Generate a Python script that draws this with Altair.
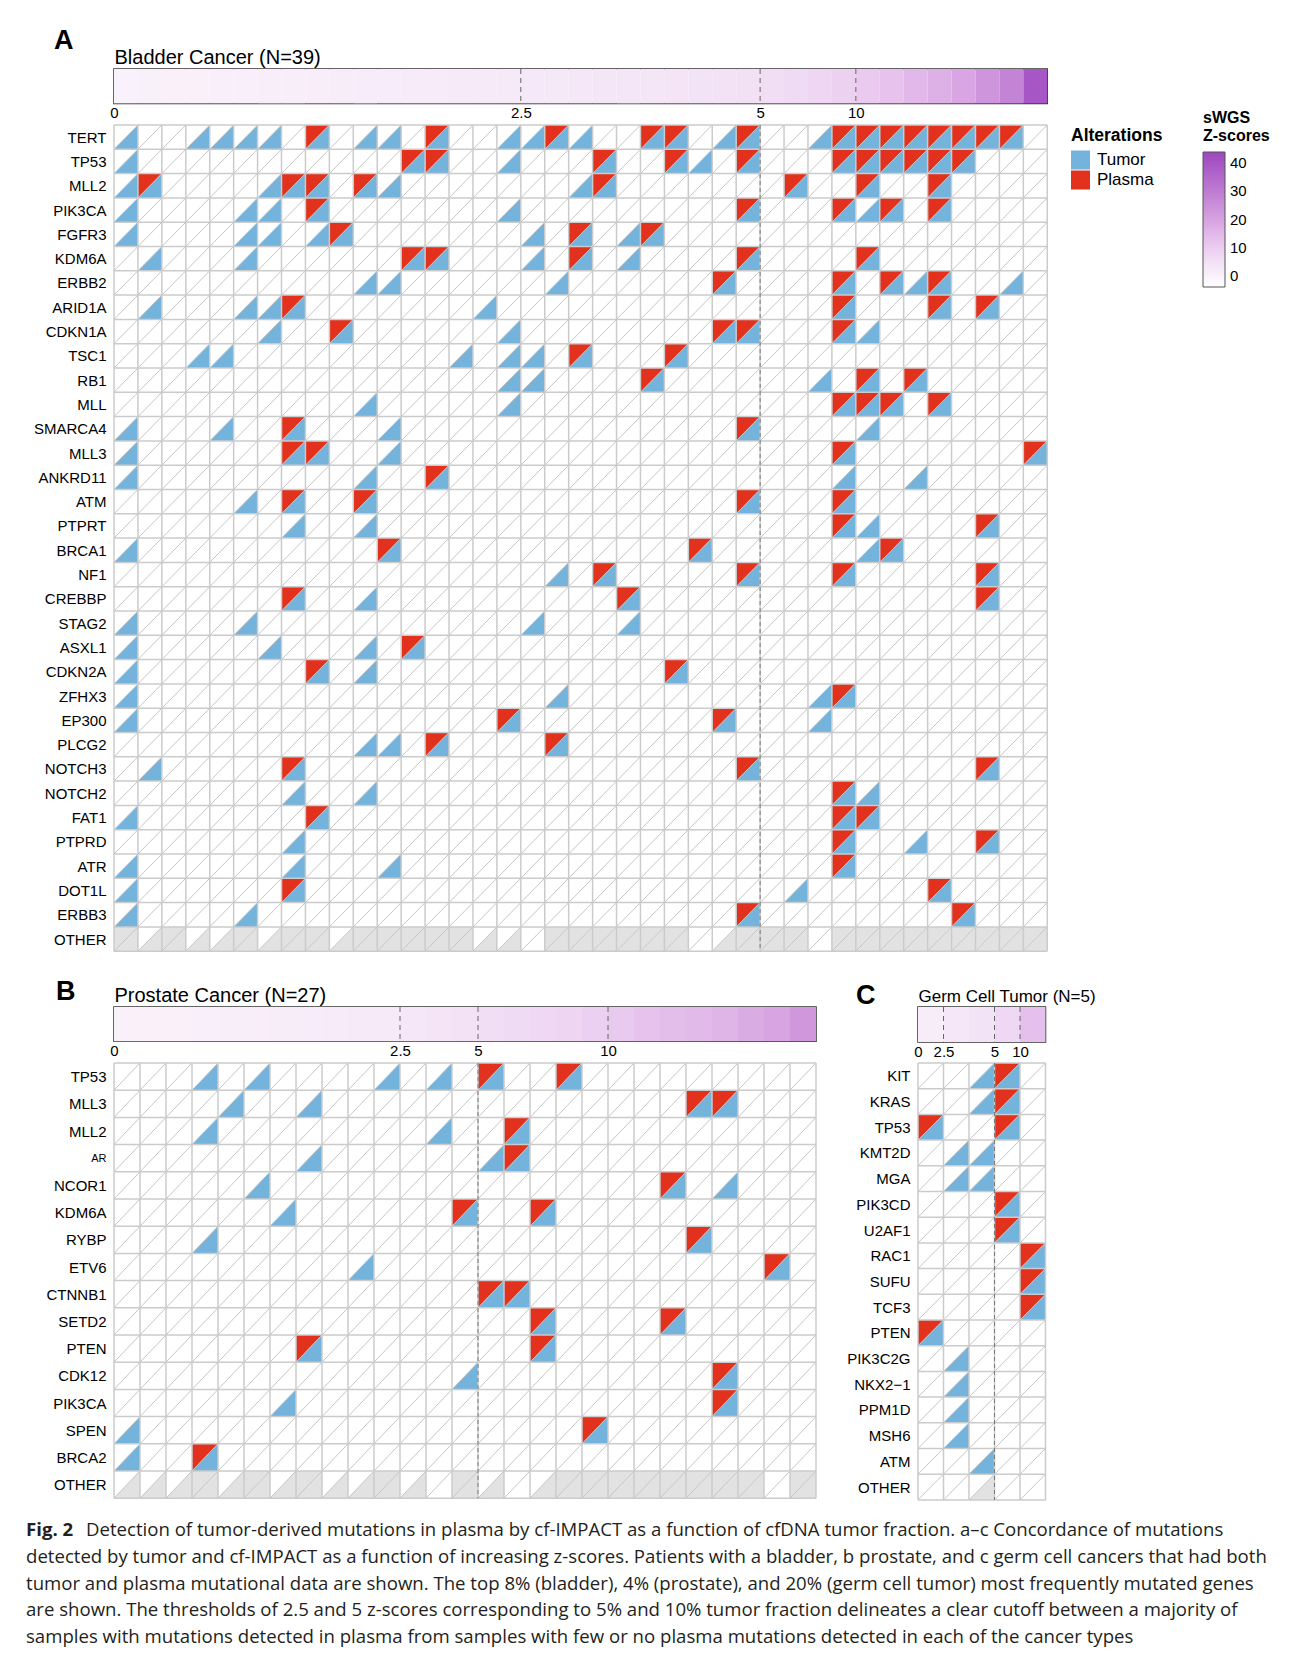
import altair as alt
import pandas as pd

FONT = "Liberation Sans"
BLUE = "#74b3dc"
RED = "#e2311c"
OTHER_GRAY = "#e2e2e2"
GRID = "#cbcbcb"
DIAG = "#c6c6c6"

# ---------------- Panel A: bladder ----------------
GENES_A = ["TERT", "TP53", "MLL2", "PIK3CA", "FGFR3", "KDM6A", "ERBB2", "ARID1A", "CDKN1A", "TSC1",
           "RB1", "MLL", "SMARCA4", "MLL3", "ANKRD11", "ATM", "PTPRT", "BRCA1", "NF1", "CREBBP",
           "STAG2", "ASXL1", "CDKN2A", "ZFHX3", "EP300", "PLCG2", "NOTCH3", "NOTCH2", "FAT1", "PTPRD",
           "ATR", "DOT1L", "ERBB3", "OTHER"]
TUMOR_ONLY_A = {
    "TERT": [0, 3, 4, 5, 6, 10, 11, 16, 17, 19, 25, 29], "TP53": [0, 16, 24],
    "MLL2": [0, 6, 11, 19], "PIK3CA": [0, 5, 6, 16, 31], "FGFR3": [0, 5, 6, 8, 17, 21],
    "KDM6A": [1, 5, 17, 21], "ERBB2": [10, 11, 18, 33, 37], "ARID1A": [1, 5, 6, 15],
    "CDKN1A": [6, 16, 31], "TSC1": [3, 4, 14, 16, 17], "RB1": [16, 17, 29], "MLL": [10, 16],
    "SMARCA4": [0, 4, 11, 31], "MLL3": [0, 11], "ANKRD11": [0, 10, 30, 33], "ATM": [5],
    "PTPRT": [7, 10, 31], "BRCA1": [0, 31], "NF1": [18], "CREBBP": [10], "STAG2": [0, 5, 17, 21],
    "ASXL1": [0, 6, 10], "CDKN2A": [0, 10], "ZFHX3": [0, 18, 29], "EP300": [0, 29],
    "PLCG2": [10, 11], "NOTCH3": [1], "NOTCH2": [7, 10, 31], "FAT1": [0], "PTPRD": [7, 33],
    "ATR": [0, 7, 11], "DOT1L": [0, 28], "ERBB3": [0, 5]}
BOTH_A = {
    "TERT": [8, 13, 18, 22, 23, 26, 30, 31, 32, 33, 34, 35, 36, 37],
    "TP53": [12, 13, 20, 23, 26, 30, 31, 32, 33, 34, 35], "MLL2": [1, 7, 8, 10, 20, 28, 31, 34],
    "PIK3CA": [8, 26, 30, 32, 34], "FGFR3": [9, 19, 22], "KDM6A": [12, 13, 19, 26, 31],
    "ERBB2": [25, 30, 32, 34], "ARID1A": [7, 30, 34, 36], "CDKN1A": [9, 25, 26, 30],
    "TSC1": [19, 23], "RB1": [22, 31, 33], "MLL": [30, 31, 32, 34], "SMARCA4": [7, 26],
    "MLL3": [7, 8, 30, 38], "ANKRD11": [13], "ATM": [7, 10, 26, 30], "PTPRT": [30, 36],
    "BRCA1": [11, 24, 32], "NF1": [20, 26, 30, 36], "CREBBP": [7, 21, 36], "ASXL1": [12],
    "CDKN2A": [8, 23], "ZFHX3": [30], "EP300": [16, 25], "PLCG2": [13, 18],
    "NOTCH3": [7, 26, 36], "NOTCH2": [30], "FAT1": [8, 30, 31], "PTPRD": [30, 36],
    "ATR": [30], "DOT1L": [7, 34], "ERBB3": [26, 35]}
OTHER_A = ["B", "T", "B", "T", "T", "B", "T", "B", "B", "T", "B", "B", "B", "B", "B", "T", "T", "",
           "B", "B", "B", "B", "B", "B", "", "T", "B", "B", "B", "", "B", "B", "B", "B", "B", "B",
           "B", "B", "B"]
Z_A = [0.05, 0.15, 0.3, 0.4, 0.55, 0.7, 0.85, 1.0, 1.1, 1.25, 1.4, 1.55, 1.7, 1.85, 2.0, 2.2,
       2.4, 2.6, 2.8, 3.0, 3.2, 3.4, 3.6, 3.9, 4.2, 4.5, 4.8, 5.4, 6.3, 7.5, 9.0, 10.6, 12.5,
       15.0, 16.5, 19.0, 23.5, 28.0, 40.0]
TICKS_A = [0, 17, 27, 31]
THR_A = 27

# ---------------- Panel B: prostate ----------------
GENES_B = ["TP53", "MLL3", "MLL2", "AR", "NCOR1", "KDM6A", "RYBP", "ETV6", "CTNNB1", "SETD2",
           "PTEN", "CDK12", "PIK3CA", "SPEN", "BRCA2", "OTHER"]
TUMOR_ONLY_B = {"TP53": [3, 5, 10, 12], "MLL3": [4, 7], "MLL2": [3, 12], "AR": [7, 14],
                "NCOR1": [5, 23], "KDM6A": [6], "RYBP": [3], "ETV6": [9], "CDK12": [13],
                "PIK3CA": [6], "SPEN": [0], "BRCA2": [0]}
BOTH_B = {"TP53": [14, 17], "MLL3": [22, 23], "MLL2": [15], "AR": [15], "NCOR1": [21],
          "KDM6A": [13, 16], "RYBP": [22], "ETV6": [25], "CTNNB1": [14, 15], "SETD2": [16, 21],
          "PTEN": [7, 16], "CDK12": [23], "PIK3CA": [23], "SPEN": [18], "BRCA2": [3]}
OTHER_B = ["T", "T", "T", "B", "T", "B", "T", "B", "T", "T", "B", "T", "", "B", "T", "", "T",
           "B", "B", "B", "B", "B", "B", "B", "B", "", "B"]
Z_B = [0.1, 0.3, 0.5, 0.7, 0.9, 1.1, 1.3, 1.6, 1.8, 2.1, 2.3, 3.0, 3.7, 4.5, 5.4, 6.2, 7.0,
       8.0, 9.3, 10.8, 12.6, 13.5, 14.5, 15.8, 18.0, 19.5, 23.0]
TICKS_B = [0, 11, 14, 19]
THR_B = 14

# ---------------- Panel C: germ cell ----------------
GENES_C = ["KIT", "KRAS", "TP53", "KMT2D", "MGA", "PIK3CD", "U2AF1", "RAC1", "SUFU", "TCF3",
           "PTEN", "PIK3C2G", "NKX2\u22121", "PPM1D", "MSH6", "ATM", "OTHER"]
TUMOR_ONLY_C = {"KIT": [2], "KRAS": [2], "KMT2D": [1, 2], "MGA": [1, 2], "PIK3C2G": [1],
                "NKX2\u22121": [1], "PPM1D": [1], "MSH6": [1], "ATM": [2]}
BOTH_C = {"KIT": [3], "KRAS": [3], "TP53": [0, 3], "PIK3CD": [3], "U2AF1": [3], "RAC1": [4],
          "SUFU": [4], "TCF3": [4], "PTEN": [0]}
OTHER_C = ["", "", "T", "", ""]
Z_C = [1.2, 3.1, 4.2, 7.0, 13.0]
TICKS_C = [0, 1, 3, 4]
THR_C = 3

TICK_LABELS = ["0", "2.5", "5", "10"]

CAPTION = [
    "Detection of tumor-derived mutations in plasma by cf-IMPACT as a function of cfDNA tumor fraction. a\u2013c Concordance of mutations",
    "detected by tumor and cf-IMPACT as a function of increasing z-scores. Patients with a bladder, b prostate, and c germ cell cancers that had both",
    "tumor and plasma mutational data are shown. The top 8% (bladder), 4% (prostate), and 20% (germ cell tumor) most frequently mutated genes",
    "are shown. The thresholds of 2.5 and 5 z-scores corresponding to 5% and 10% tumor fraction delineates a clear cutoff between a majority of",
    "samples with mutations detected in plasma from samples with few or no plasma mutations detected in each of the cancer types",
]
FIG_LABEL = "Fig. 2"

# ---------------- shared scales / legends ----------------
FILL_SCALE = alt.Scale(domain=["Tumor", "Plasma"], range=[BLUE, RED])
Z_SCALE = alt.Scale(domain=[-4, 5, 10, 20, 44],
                    range=["#ffffff", "#f2e0f5", "#ebcdf0", "#d7a2e1", "#9d47bf"],
                    interpolate="rgb")
ALT_LEG = alt.Legend(title="Alterations", orient="none", legendX=957, legendY=58,
                     symbolType="square", symbolSize=361, symbolStrokeWidth=0,
                     titleFontSize=17.5, titleFontWeight="bold", titleFont=FONT, titleColor="black",
                     labelFontSize=17, labelFont=FONT, labelColor="black", rowPadding=1,
                     titlePadding=6, labelOffset=7)
Z_LEG = alt.Legend(title=["sWGS", "Z-scores"], orient="none", legendX=1089, legendY=41,
                   direction="vertical", gradientLength=135, gradientThickness=22,
                   values=[0, 10, 20, 30, 40], gradientStrokeColor="#555", gradientStrokeWidth=1,
                   titleFontSize=16, titleFontWeight="bold", titleFont=FONT, titleColor="black",
                   labelFontSize=15, labelFont=FONT, labelColor="black", titlePadding=8,
                   labelOffset=5)


def tick_expr(vals, labels):
    e = "''"
    for v, l in zip(vals, labels):
        e = f"(datum.value == {v} ? '{l}' : {e})"
    return e


def panel(genes, tumor_only, both, other, z, ticks, thr, cw, ch, E, letter, subtitle,
          sub_size, letter_dx, letter_off, cb_h, spacing, small_label=None):
    n_col, n_row = len(z), len(genes)
    W, H = n_col * cw, n_row * ch
    xs = alt.Scale(domain=[0, n_col], nice=False, zero=False)
    ys = alt.Scale(domain=[0, n_row], reverse=True, nice=False, zero=False)
    ky = ch / cw
    LR = f"M1,-{ky:.4f}L1,{ky:.4f}L-1,{ky:.4f}Z"
    UL = f"M-1,-{ky:.4f}L1,-{ky:.4f}L-1,{ky:.4f}Z"
    size = cw * cw

    tri = []
    for g, cols in tumor_only.items():
        for c in cols:
            tri.append(dict(c=c + 0.5, r=genes.index(g) + 0.5, type="Tumor"))
    for g, cols in both.items():
        for c in cols:
            tri.append(dict(c=c + 0.5, r=genes.index(g) + 0.5, type="Tumor"))
            tri.append(dict(c=c + 0.5, r=genes.index(g) + 0.5, type="Plasma"))
    tri = pd.DataFrame(tri)
    ro = n_row - 1 + 0.5
    oth_lr = pd.DataFrame([dict(c=i + 0.5, r=ro) for i, k in enumerate(other) if k in ("T", "B")])
    oth_ul = pd.DataFrame([dict(c=i + 0.5, r=ro) for i, k in enumerate(other) if k == "B"])
    diag = pd.DataFrame([dict(x0=c, x1=c + 1, y0=r + 1, y1=r) for c in range(n_col) for r in range(n_row)])
    hl = pd.DataFrame({"y": list(range(n_row + 1))})
    vl = pd.DataFrame({"x": list(range(n_col + 1))})
    th = pd.DataFrame({"x": [thr]})

    gexpr = "[" + ",".join(f"'{g}'" for g in genes) + "][floor(datum.value)]"
    if small_label:
        fs = {"condition": {"test": f"datum.value == {genes.index(small_label) + 0.5}", "value": 11},
              "value": 15}
    else:
        fs = 15
    gaxis = alt.Axis(values=[r + 0.5 for r in range(n_row)], labelExpr=gexpr, ticks=False,
                     domain=False, grid=False, labelPadding=8, labelFontSize=fs,
                     labelColor="black", labelFont=FONT, labelOverlap=False, labelFlush=False,
                     minExtent=E, maxExtent=E, title=None)

    def X(f):
        return alt.X(f, scale=xs, axis=None)

    def Y(f):
        return alt.Y(f, scale=ys, axis=gaxis)

    layers = []
    if len(oth_lr):
        layers.append(alt.Chart(oth_lr).mark_point(shape=LR, filled=True, size=size, opacity=1,
                                                   strokeWidth=0, color=OTHER_GRAY)
                      .encode(x=X("c:Q"), y=Y("r:Q")))
    if len(oth_ul):
        layers.append(alt.Chart(oth_ul).mark_point(shape=UL, filled=True, size=size, opacity=1,
                                                   strokeWidth=0, color=OTHER_GRAY)
                      .encode(x=X("c:Q"), y=Y("r:Q")))
    layers.append(alt.Chart(tri[tri.type == "Tumor"]).mark_point(shape=LR, filled=True, size=size,
                                                                  opacity=1, strokeWidth=0)
                  .encode(x=X("c:Q"), y=Y("r:Q"),
                          fill=alt.Fill("type:N", scale=FILL_SCALE, legend=ALT_LEG)))
    layers.append(alt.Chart(tri[tri.type == "Plasma"]).mark_point(shape=UL, filled=True, size=size,
                                                                   opacity=1, strokeWidth=0)
                  .encode(x=X("c:Q"), y=Y("r:Q"),
                          fill=alt.Fill("type:N", scale=FILL_SCALE, legend=ALT_LEG)))
    layers.append(alt.Chart(diag).mark_rule(color=DIAG, strokeWidth=1)
                  .encode(x=X("x0:Q"), x2="x1:Q", y=Y("y0:Q"), y2="y1:Q"))
    layers.append(alt.Chart(hl).mark_rule(color=GRID, strokeWidth=1.5).encode(y=Y("y:Q")))
    layers.append(alt.Chart(vl).mark_rule(color=GRID, strokeWidth=1.5).encode(x=X("x:Q")))
    layers.append(alt.Chart(th).mark_rule(color="#7a7a7a", strokeDash=[4, 3], strokeWidth=1)
                  .encode(x=X("x:Q")))
    grid = alt.layer(*layers).properties(width=W, height=H)

    cb_df = pd.DataFrame({"i": list(range(n_col)), "i2": [i + 1 for i in range(n_col)],
                          "y0": 0, "y1": 1, "z": z})
    xaxis = alt.Axis(values=ticks, labelExpr=tick_expr(ticks, TICK_LABELS), ticks=False,
                     domain=False, grid=False, labelFlush=False, labelPadding=2,
                     labelFontSize=15, labelColor="black", labelFont=FONT, labelOverlap=False,
                     title=None)
    yaxis = alt.Axis(labels=False, ticks=False, domain=False, grid=False, minExtent=E,
                     maxExtent=E, title=subtitle, titleAngle=0, titleAlign="left",
                     titleBaseline="alphabetic", titleX=0, titleY=-6, titleFontSize=sub_size,
                     titleFontWeight="normal", titleFont=FONT, titleColor="black")
    cb_rect = alt.Chart(cb_df).mark_rect(strokeWidth=0).encode(
        x=alt.X("i:Q", scale=xs, axis=xaxis), x2="i2:Q",
        y=alt.Y("y0:Q", scale=alt.Scale(domain=[0, 1], nice=False), axis=yaxis), y2="y1:Q",
        color=alt.Color("z:Q", scale=Z_SCALE, legend=Z_LEG))
    cb_dash = alt.Chart(pd.DataFrame({"p": ticks[1:]})).mark_rule(
        color="#666", strokeDash=[5, 4], strokeWidth=1).encode(x=alt.X("p:Q", scale=xs, axis=xaxis))
    cb = alt.layer(cb_rect, cb_dash).properties(
        width=W, height=cb_h,
        view=alt.ViewBackground(stroke="#333", strokeWidth=1.5),
        title=alt.TitleParams(letter, anchor="start", frame="group", dx=letter_dx, fontSize=27,
                              fontWeight="bold", font=FONT, color="black", offset=letter_off,
                              baseline="alphabetic"))
    return alt.vconcat(cb, grid, spacing=spacing)


panelA = panel(GENES_A, TUMOR_ONLY_A, BOTH_A, OTHER_A, Z_A, TICKS_A, THR_A, 23.93, 24.3, 100,
               "A", "Bladder Cancer (N=39)", 20, -60, -29, 34.4, 2)
panelB = panel(GENES_B, TUMOR_ONLY_B, BOTH_B, OTHER_B, Z_B, TICKS_B, THR_B, 26.0, 27.2, 100,
               "B", "Prostate Cancer (N=27)", 20, -58, -42, 34.3, 2, small_label="AR")
panelC = panel(GENES_C, TUMOR_ONLY_C, BOTH_C, OTHER_C, Z_C, TICKS_C, THR_C, 25.5, 25.7, 80,
               "C", "Germ Cell Tumor (N=5)", 17, -62, -44, 35, 2)
rowBC = alt.hconcat(panelB, panelC, spacing=20)

cap_df = pd.DataFrame({"line": list(range(len(CAPTION))), "text": CAPTION})
CAP_Y = alt.Scale(domain=list(range(len(CAPTION))), paddingInner=0, paddingOuter=0)
CAP_X0 = -88
CAP_FS = 18.6
cap_first = alt.Chart(cap_df[cap_df.line == 0]).mark_text(
    align="left", baseline="middle", fontSize=CAP_FS, font="Open Sans", color="#231f20", dx=60).encode(
    x=alt.value(CAP_X0), y=alt.Y("line:O", axis=None, scale=CAP_Y), text="text:N")
cap_rest = alt.Chart(cap_df[cap_df.line > 0]).mark_text(
    align="left", baseline="middle", fontSize=CAP_FS, font="Open Sans", color="#231f20").encode(
    x=alt.value(CAP_X0), y=alt.Y("line:O", axis=None, scale=CAP_Y), text="text:N")
cap_fig = alt.Chart(pd.DataFrame({"line": [0], "text": [FIG_LABEL]})).mark_text(
    align="left", baseline="middle", fontSize=CAP_FS, font="Open Sans", fontWeight="bold",
    color="#231f20").encode(x=alt.value(CAP_X0), y=alt.Y("line:O", axis=None, scale=CAP_Y),
                            text="text:N")
caption = alt.layer(cap_first, cap_rest, cap_fig).properties(width=1100, height=5 * 26.7)

chart = alt.vconcat(alt.vconcat(panelA, rowBC, spacing=25), caption, spacing=16).properties(
    padding={"left": 5, "top": 18, "right": 5, "bottom": 5}
).configure(background="white", font=FONT).configure_view(stroke="transparent", strokeWidth=0)

chart.save("out.html", embed_options={"renderer": "svg", "actions": False})
